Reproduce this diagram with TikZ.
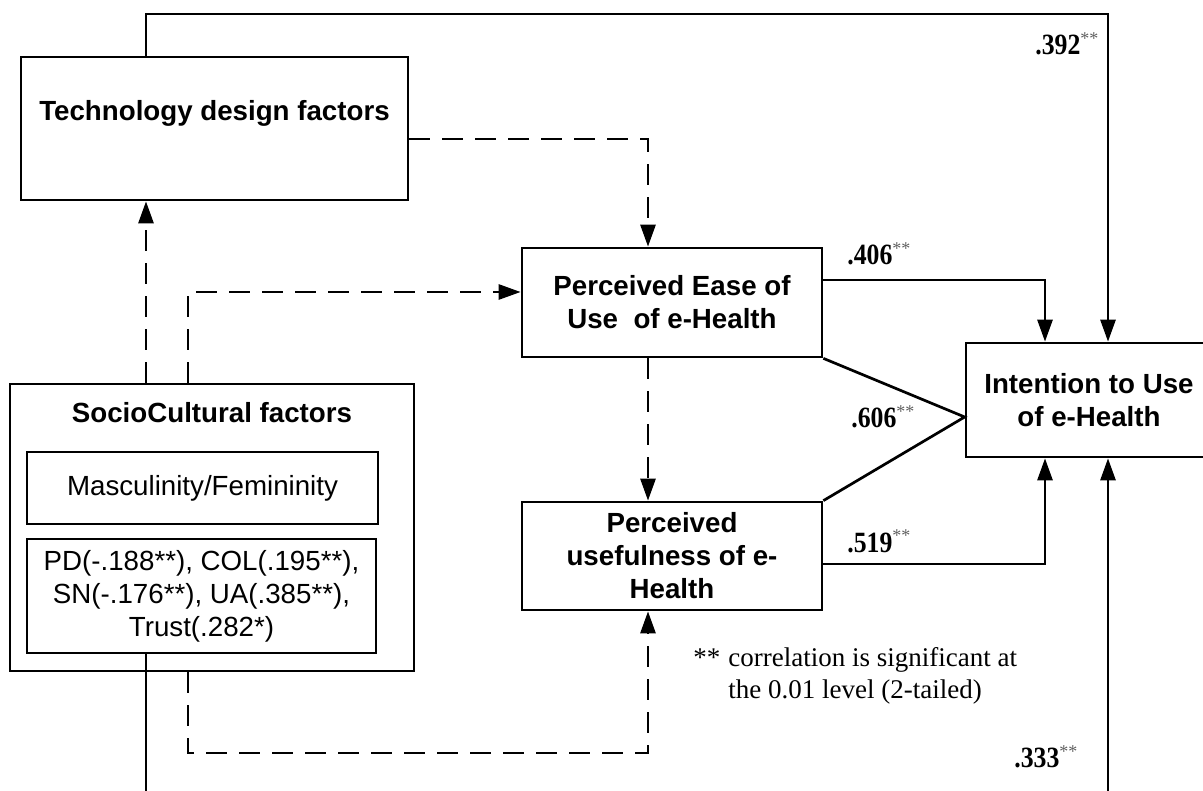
\documentclass[tikz,border=0pt]{standalone}
\usepackage{fontspec}
\usepackage{graphicx}
\setmainfont{Liberation Serif}
\newfontfamily\arialfont{Liberation Sans}
\usetikzlibrary{arrows.meta}
\definecolor{stargray}{RGB}{95,95,95}
% path coefficient with grey significance stars
\newcommand{\pathcoef}[1]{\scalebox{0.92}[1.05]{\textbf{#1}}\raisebox{10pt}{\fontsize{18}{18}\selectfont\color{stargray}**}}

\begin{document}
\begin{tikzpicture}[x=1pt,y=-1pt,
  line width=2.7pt, line join=miter,
  box/.style={draw, rectangle, inner sep=0pt, align=center,
    font=\arialfont\fontsize{27.7}{33}\selectfont\bfseries},
  plainbox/.style={draw, rectangle, inner sep=0pt, align=center,
    font=\arialfont\fontsize{27.7}{33}\selectfont},
  boxtitle/.style={inner sep=0pt, anchor=base,
    font=\arialfont\fontsize{27.7}{33}\selectfont\bfseries},
  coeflabel/.style={inner sep=0pt, anchor=base west,
    font=\fontsize{28}{32}\selectfont},
  conn/.style={-{Triangle[length=22pt,width=15pt]}},
  dconn/.style={conn, dash pattern=on 21pt off 12pt},
]
\clip (0,0) rectangle (1203,791);

% constructs
\node[box, minimum width=387pt, minimum height=143pt] (tech) at (214.5,128.5) {};
\node[boxtitle] (techtxt) at (214.5,121) {Technology design factors};

\node[box, minimum width=404pt, minimum height=287pt] (sc) at (212,527.5) {};
\node[boxtitle] (sctitle) at (212,423) {SocioCultural factors};
\node[plainbox, minimum width=351pt, minimum height=72pt] (masc) at (202.5,488) {Masculinity/Femininity};
\node[plainbox, minimum width=349pt, minimum height=114pt] (pd) at (201.5,596)
  {PD(-.188**), COL(.195**),\\ SN(-.176**), UA(.385**),\\ Trust(.282*)};

\node[box, minimum width=300pt, minimum height=109pt] (peou) at (672,302.5)
  {Perceived Ease of\\ Use\ \ of e-Health};
\node[box, minimum width=300pt, minimum height=108pt] (pu) at (672,556)
  {Perceived\\ usefulness of e-\\ Health};
\node[box, minimum width=246pt, minimum height=114pt] (intent) at (1089,400)
  {Intention to Use\\ of e-Health};

% routing guides
\coordinate (xa) at (146,0);
\coordinate (xb) at (188,0);
\coordinate (xc) at (648,0);
\coordinate (xe) at (1045,0);
\coordinate (xd) at (1108,0);
\coordinate (ytop) at (0,14);
\coordinate (yb) at (0,139);
\coordinate (yc) at (0,292);
\coordinate (ye) at (0,280);
\coordinate (ym) at (0,417);
\coordinate (yf) at (0,564);
\coordinate (yg) at (0,753);
\coordinate (yh) at (0,805);
\coordinate (meet) at (intent.west |- ym);

% connectors
\draw[conn] (tech.north -| xa) |- (xd |- ytop) -- (intent.north -| xd);
\draw[dconn] (tech.east |- yb) -| (peou.north -| xc);
\draw[dconn] (sc.north -| xa) -- (tech.south -| xa);
\draw[dconn] (sc.north -| xb) |- (peou.west |- yc);
\draw[conn] (peou.east |- ye) -| (intent.north -| xe);
\draw[dconn] (peou.south -| xc) -- (pu.north -| xc);
\draw (peou.south east) -- (meet) -- (pu.north east);
\draw[conn] (pu.east |- yf) -| (intent.south -| xe);
\draw[dconn] (sc.south -| xb) |- (xc |- yg) -- (pu.south -| xc);
\draw[conn] (pd.south -| xa) |- (xd |- yh) -- (intent.south -| xd);

% coefficients
\node[coeflabel] (c392) at (1034,55) {\pathcoef{.392}};
\node[coeflabel] (c406) at (846,265) {\pathcoef{.406}};
\node[coeflabel] (c606) at (850,428) {\pathcoef{.606}};
\node[coeflabel] (c519) at (846,552) {\pathcoef{.519}};
\node[coeflabel] (c333) at (1013,767) {\pathcoef{.333}};

% significance note
\node[inner sep=0pt, anchor=base west, font=\fontsize{27}{32}\selectfont] (note) at (692,666)
  {\begin{tabular}[t]{@{}l@{\hspace{8pt}}l@{}}**&correlation is significant at\\ &the 0.01 level (2-tailed)\end{tabular}};
\end{tikzpicture}
\end{document}
